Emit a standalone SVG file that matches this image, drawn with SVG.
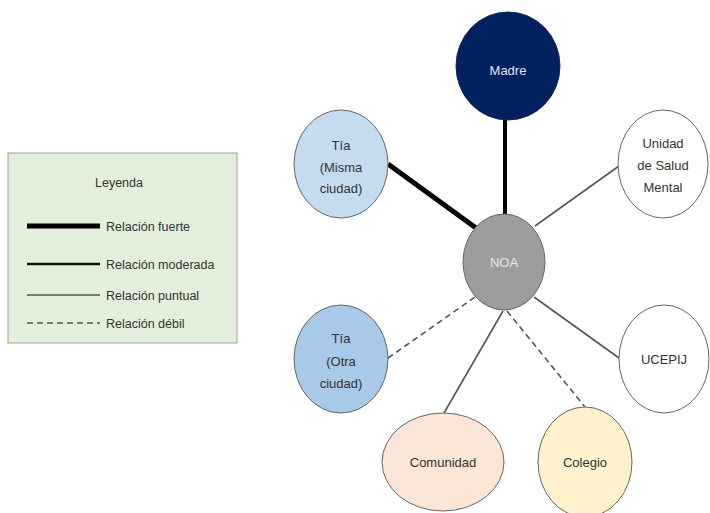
<svg xmlns="http://www.w3.org/2000/svg" width="710" height="513" viewBox="0 0 710 513">
<style>
  text { font-family: "Liberation Sans", "DejaVu Sans", sans-serif; font-size: 12.5px; fill: #333; }
  .n { font-size: 13px; text-anchor: middle; }
  .c { text-anchor: middle; }
  .node { stroke: #666; stroke-width: 1; }
  .punt { stroke: #555; stroke-width: 1.6; fill: none; }
  .deb { stroke: #555; stroke-width: 1.6; stroke-dasharray: 6 4; fill: none; }
</style>
<rect width="710" height="513" fill="#ffffff"/>

<g id="legend">
  <rect x="8" y="153" width="229" height="190" fill="#e2efda" stroke="#a0a0a0" stroke-width="1"/>
  <text class="c" x="119" y="187">Leyenda</text>
  <line x1="27" y1="226" x2="100" y2="226" stroke="#000" stroke-width="5"/>
  <text x="106" y="231">Relación fuerte</text>
  <line x1="27" y1="264" x2="100" y2="264" stroke="#111" stroke-width="2.5"/>
  <text x="106" y="269">Relación moderada</text>
  <line x1="27" y1="295" x2="100" y2="295" class="punt"/>
  <text x="106" y="300">Relación puntual</text>
  <line x1="27" y1="323" x2="100" y2="323" class="deb"/>
  <text x="106" y="328">Relación débil</text>
</g>

<g id="connectors">
  <line x1="505" y1="119" x2="505" y2="215" stroke="#000" stroke-width="4"/>
  <line x1="388" y1="164" x2="476" y2="228" stroke="#000" stroke-width="5"/>
  <line x1="619" y1="166" x2="535" y2="226" class="punt"/>
  <line x1="534" y1="297" x2="619" y2="358" class="punt"/>
  <line x1="388" y1="358" x2="475" y2="297" class="deb"/>
  <line x1="444" y1="413" x2="503" y2="311" class="punt"/>
  <line x1="507" y1="311" x2="585" y2="407" class="deb"/>
</g>

<g id="madre">
  <ellipse cx="508" cy="66" rx="52" ry="54" fill="#002060" stroke="#1a2a5a"/>
  <text class="n" x="508" y="75" style="fill:#dfe6f2">Madre</text>
</g>

<g id="tia-misma">
  <ellipse class="node" cx="341" cy="164" rx="47" ry="54" fill="#c5dcf0"/>
  <text class="n" x="341" y="150">Tía</text>
  <text class="n" x="341" y="171.5">(Misma</text>
  <text class="n" x="341" y="193">ciudad)</text>
</g>

<g id="usm">
  <ellipse class="node" cx="663" cy="164" rx="45" ry="54" fill="#ffffff"/>
  <text class="n" x="663" y="148">Unidad</text>
  <text class="n" x="663" y="170">de Salud</text>
  <text class="n" x="663" y="192">Mental</text>
</g>

<g id="noa">
  <ellipse class="node" cx="504" cy="262" rx="41" ry="48" fill="#9d9d9d"/>
  <text class="n" x="504" y="267" style="fill:#e8e8e8">NOA</text>
</g>

<g id="tia-otra">
  <ellipse class="node" cx="341" cy="359" rx="47" ry="54" fill="#a9c9e8"/>
  <text class="n" x="341" y="343">Tía</text>
  <text class="n" x="341" y="366">(Otra</text>
  <text class="n" x="341" y="388">ciudad)</text>
</g>

<g id="ucepij">
  <ellipse class="node" cx="664" cy="359" rx="45" ry="54" fill="#ffffff"/>
  <text class="n" x="664" y="364">UCEPIJ</text>
</g>

<g id="comunidad">
  <ellipse class="node" cx="443" cy="462" rx="61" ry="49" fill="#fbe5d6"/>
  <text class="n" x="443" y="467">Comunidad</text>
</g>

<g id="colegio">
  <ellipse class="node" cx="585" cy="462" rx="47" ry="55" fill="#fff2cc"/>
  <text class="n" x="585" y="467">Colegio</text>
</g>
</svg>
